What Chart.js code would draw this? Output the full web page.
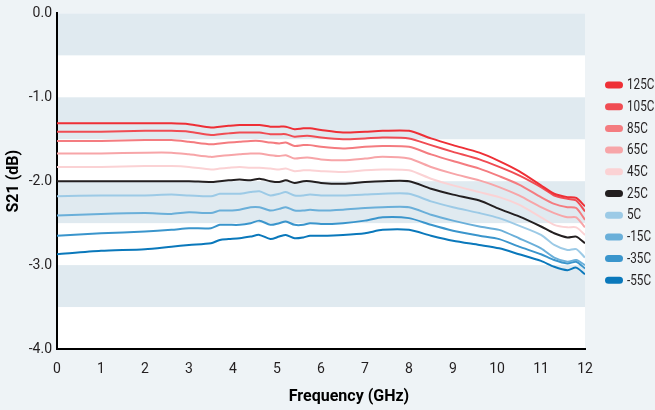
<!DOCTYPE html>
<html>
<head>
<meta charset="UTF-8">
<title>S21 vs Frequency</title>
<script src="https://cdn.jsdelivr.net/npm/chart.js"></script>
<style>
    body { margin: 0; background: #eef3f6; }
    #wrap { width: 655px; height: 410px; }
</style>
</head>
<body>
<div id="wrap"><canvas id="s21Chart" width="655" height="410"></canvas></div>
<script>
// frequency points (GHz)
const freqs = [0, 1, 2, 2.6, 3, 3.5, 3.7, 3.9, 4.15, 4.4, 4.6, 4.85, 5.05, 5.2, 5.4, 5.6, 5.75,
    6, 6.5, 7, 7.4, 8, 8.5, 9, 9.6, 10.05, 10.5, 11, 11.3, 11.6, 11.8, 12];

// S21 (dB) per temperature
const s21_125C = [-1.31, -1.31, -1.31, -1.31, -1.32, -1.36, -1.35, -1.34, -1.33, -1.33, -1.33, -1.35, -1.35, -1.35, -1.38, -1.37, -1.37,
    -1.39, -1.42, -1.41, -1.40, -1.40, -1.49, -1.57, -1.66, -1.76, -1.88, -2.05, -2.15, -2.19, -2.20, -2.30];
const s21_105C = [-1.41, -1.41, -1.40, -1.40, -1.41, -1.45, -1.44, -1.43, -1.42, -1.42, -1.42, -1.44, -1.44, -1.44, -1.47, -1.46, -1.46,
    -1.48, -1.50, -1.49, -1.48, -1.49, -1.57, -1.65, -1.74, -1.83, -1.93, -2.07, -2.17, -2.21, -2.23, -2.36];
const s21_85C = [-1.52, -1.52, -1.51, -1.51, -1.53, -1.56, -1.55, -1.54, -1.53, -1.52, -1.52, -1.54, -1.55, -1.54, -1.58, -1.57, -1.57,
    -1.59, -1.61, -1.59, -1.58, -1.59, -1.68, -1.76, -1.85, -1.94, -2.04, -2.19, -2.27, -2.31, -2.32, -2.46];
const s21_65C = [-1.67, -1.67, -1.66, -1.66, -1.68, -1.71, -1.70, -1.69, -1.68, -1.67, -1.67, -1.69, -1.70, -1.69, -1.73, -1.72, -1.72,
    -1.74, -1.75, -1.73, -1.71, -1.73, -1.83, -1.91, -1.99, -2.07, -2.17, -2.31, -2.38, -2.43, -2.43, -2.55];
const s21_45C = [-1.83, -1.83, -1.82, -1.82, -1.83, -1.86, -1.85, -1.84, -1.83, -1.84, -1.84, -1.85, -1.86, -1.85, -1.88, -1.87, -1.87,
    -1.88, -1.89, -1.87, -1.86, -1.87, -1.97, -2.05, -2.13, -2.19, -2.28, -2.43, -2.52, -2.55, -2.55, -2.64];
const s21_25C = [-2.00, -2.00, -2.00, -2.00, -2.00, -2.01, -2.00, -1.99, -1.98, -1.99, -1.97, -2.00, -2.01, -1.99, -2.02, -2.00, -2.00,
    -2.02, -2.03, -2.01, -2.00, -2.00, -2.09, -2.16, -2.23, -2.33, -2.42, -2.54, -2.62, -2.67, -2.66, -2.74];
const s21_5C = [-2.18, -2.17, -2.17, -2.16, -2.17, -2.18, -2.15, -2.15, -2.15, -2.13, -2.12, -2.17, -2.15, -2.13, -2.17, -2.17, -2.16,
    -2.17, -2.17, -2.16, -2.15, -2.15, -2.24, -2.31, -2.38, -2.44, -2.53, -2.64, -2.76, -2.82, -2.81, -2.91];
const s21_m15C = [-2.41, -2.39, -2.38, -2.39, -2.37, -2.38, -2.35, -2.35, -2.34, -2.31, -2.31, -2.35, -2.33, -2.31, -2.35, -2.35, -2.34,
    -2.35, -2.34, -2.32, -2.31, -2.31, -2.40, -2.47, -2.54, -2.58, -2.68, -2.80, -2.91, -2.96, -2.94, -3.00];
const s21_m35C = [-2.65, -2.62, -2.60, -2.58, -2.56, -2.56, -2.52, -2.52, -2.52, -2.50, -2.47, -2.52, -2.50, -2.48, -2.52, -2.52, -2.50,
    -2.51, -2.50, -2.47, -2.43, -2.44, -2.52, -2.59, -2.65, -2.69, -2.78, -2.87, -2.94, -2.98, -2.96, -3.04];
const s21_m55C = [-2.87, -2.83, -2.81, -2.78, -2.76, -2.74, -2.70, -2.69, -2.68, -2.66, -2.64, -2.69, -2.66, -2.64, -2.68, -2.67, -2.65,
    -2.65, -2.64, -2.62, -2.58, -2.58, -2.65, -2.71, -2.76, -2.80, -2.87, -2.95, -3.02, -3.06, -3.03, -3.11];

const seriesNames = ['125C', '105C', '85C', '65C', '45C', '25C', '5C', '-15C', '-35C', '-55C'];
const seriesData = [s21_125C, s21_105C, s21_85C, s21_65C, s21_45C, s21_25C, s21_5C, s21_m15C, s21_m35C, s21_m55C];
const seriesColors = ['#ee2f36', '#f04c53', '#f47c80', '#f7a5a8', '#fbd2d4', '#231f20', '#9ccae6', '#6aafd9', '#3a95cc', '#0a78bb'];

// shaded half-dB bands [from, to]
const bands = [[0, -0.5], [-1, -1.5], [-2, -2.5], [-3, -3.5]];

const FONT = "Roboto, 'Liberation Sans', sans-serif";
const TEXT = '#231f20';

const datasets = seriesNames.map((name, i) => ({
    label: name,
    data: freqs.map((f, j) => ({ x: f, y: seriesData[i][j] })),
    borderColor: seriesColors[i],
    backgroundColor: seriesColors[i],
    borderWidth: 2,
    pointRadius: 0,
    tension: 0.25,
    fill: false
}));

// white plot area + shaded bands
const bandPlugin = {
    id: 'bands',
    beforeDraw(chart) {
        const { ctx, chartArea: a, scales: { y } } = chart;
        ctx.save();
        ctx.fillStyle = '#ffffff';
        ctx.fillRect(a.left, a.top, a.right - a.left, a.bottom - a.top);
        ctx.fillStyle = '#e0eaf0';
        bands.forEach(b => {
            const y1 = y.getPixelForValue(b[0]);
            const y2 = y.getPixelForValue(b[1]);
            ctx.fillRect(a.left, y1, a.right - a.left, y2 - y1);
        });
        ctx.restore();
    }
};

// legend with pill markers + x axis title (sits right of centre in the original)
const pillLegend = {
    id: 'pillLegend',
    afterDraw(chart) {
        const ctx = chart.ctx;
        ctx.save();
        ctx.textBaseline = 'middle';
        chart.data.datasets.forEach((ds, i) => {
            const cy = 85 + i * 21.7;
            ctx.fillStyle = ds.borderColor;
            ctx.beginPath();
            ctx.roundRect(605, cy - 3.5, 18, 7, 3.5);
            ctx.fill();
            ctx.save();
            ctx.translate(627, cy + 0.5);
            ctx.scale(0.78, 1);
            ctx.font = '15px ' + FONT;
            ctx.fillStyle = TEXT;
            ctx.fillText(ds.label, 0, 0);
            ctx.restore();
        });
        ctx.font = 'bold 16px ' + FONT;
        ctx.fillStyle = '#000';
        ctx.textAlign = 'center';
        ctx.fillText('Frequency (GHz)', 349, 397);
        ctx.restore();
    }
};

new Chart(document.getElementById('s21Chart'), {
    type: 'line',
    data: { datasets: datasets },
    plugins: [bandPlugin, pillLegend],
    options: {
        responsive: false,
        animation: false,
        layout: { padding: { left: 0, right: 70, top: 13, bottom: 0 } },
        plugins: {
            legend: { display: false },
            tooltip: { enabled: false }
        },
        scales: {
            x: {
                type: 'linear',
                min: 0,
                max: 12,
                grid: { display: false, drawTicks: false },
                border: { display: true, color: '#000', width: 2 },
                ticks: { stepSize: 1, color: TEXT, font: { family: FONT, size: 14 }, padding: 12, maxRotation: 0 },
                afterFit(s) { s.height = 61; }
            },
            y: {
                type: 'linear',
                min: -4,
                max: 0,
                grid: { display: false, drawTicks: false },
                border: { display: true, color: '#000', width: 2 },
                ticks: { stepSize: 1, color: TEXT, font: { family: FONT, size: 14 }, padding: 5,
                    callback: v => v.toFixed(1) },
                title: { display: true, text: 'S21 (dB)', color: '#000', font: { family: FONT, size: 16, weight: 'bold' }, padding: { top: 4, bottom: 4 } },
                afterFit(s) { s.width = 57; }
            }
        }
    }
});
</script>
</body>
</html>
